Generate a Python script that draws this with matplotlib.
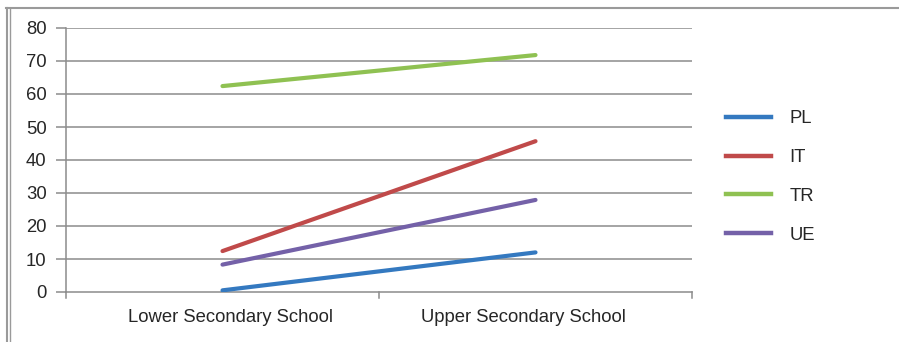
import matplotlib
matplotlib.use("Agg")
import matplotlib.pyplot as plt
from matplotlib.lines import Line2D
from matplotlib.transforms import ScaledTranslation

plt.rcParams['font.family'] = ['Liberation Sans', 'DejaVu Sans']

categories = ["Lower Secondary School", "Upper Secondary School"]
series_names = ["PL", "IT", "TR", "UE"]
pl = [0.5, 12.0]
it = [12.4, 45.7]
tr = [62.4, 71.8]
ue = [8.3, 27.9]
series_values = [pl, it, tr, ue]
colors = ["#3479c0", "#c04a4a", "#8fc152", "#7461a8"]
y_ticks = [0, 10, 20, 30, 40, 50, 60, 70, 80]

W, H = 899, 342
FS = 13.3
fig = plt.figure(figsize=(W / 100, H / 100), dpi=100)

# plot area in pixel coordinates
left, right, top, bottom = 66, 692, 28, 292
ax = fig.add_axes([left / W, 1 - bottom / H, (right - left) / W, (bottom - top) / H])

grid_color = "#8c8c8c"
text_color = "#262626"

x = [0, 1]
for vals, c in zip(series_values, colors):
    ax.plot(x, vals, color=c, lw=3.0, solid_capstyle="round", zorder=3)

ax.set_xlim(-0.5, 1.5)
ax.set_ylim(0, 80)
ax.set_yticks(y_ticks)
ax.set_yticklabels([str(v) for v in y_ticks], fontsize=FS, color=text_color)
for v in y_ticks[1:]:
    ax.axhline(v, color=grid_color, lw=1.1, zorder=1)

ax.set_xticks(x)
ax.set_xticklabels([])
ax.tick_params(axis="x", length=0)
ax.tick_params(axis="y", length=7, width=1.1, color=grid_color, pad=7)

# category labels, nudged slightly toward the middle of the axis
label_shift_px = [8, -12]
for xc, name, dx in zip(x, categories, label_shift_px):
    tr_off = ax.get_xaxis_transform() + ScaledTranslation(dx / 100, -30 / 100, fig.dpi_scale_trans)
    ax.text(xc, 0, name, transform=tr_off, ha="center", va="baseline",
            fontsize=FS, color=text_color)

# category boundary ticks on the x axis
for xb in [-0.5, 0.5, 1.5]:
    ax.plot([xb, xb], [0, -6 * 80 / 264], color=grid_color, lw=1.1, clip_on=False)

for s in ["top", "right"]:
    ax.spines[s].set_visible(False)
ax.spines["left"].set_color(grid_color)
ax.spines["left"].set_linewidth(1.1)
ax.spines["bottom"].set_color(grid_color)
ax.spines["bottom"].set_linewidth(1.1)

# legend
handles = [Line2D([0], [0], color=c, lw=3.2) for c in colors]
leg = fig.legend(handles, series_names, loc="center left",
                 bbox_to_anchor=(709 / W, 1 - 177 / H), frameon=False,
                 fontsize=FS, handlelength=2.45, handletextpad=1.0,
                 labelspacing=1.18, labelcolor=text_color)

# outer frame
frame_color = "#9a9a9a"
fig.add_artist(Line2D([6 / W, 1], [1 - 8 / H, 1 - 8 / H], color=frame_color, lw=1.5))
fig.add_artist(Line2D([6.5 / W, 6.5 / W], [0, 1 - 8 / H], color=frame_color, lw=1.5))
fig.add_artist(Line2D([10 / W, 10 / W], [0, 1 - 8 / H], color=frame_color, lw=1.0))

fig.savefig("out.png", dpi=100)
